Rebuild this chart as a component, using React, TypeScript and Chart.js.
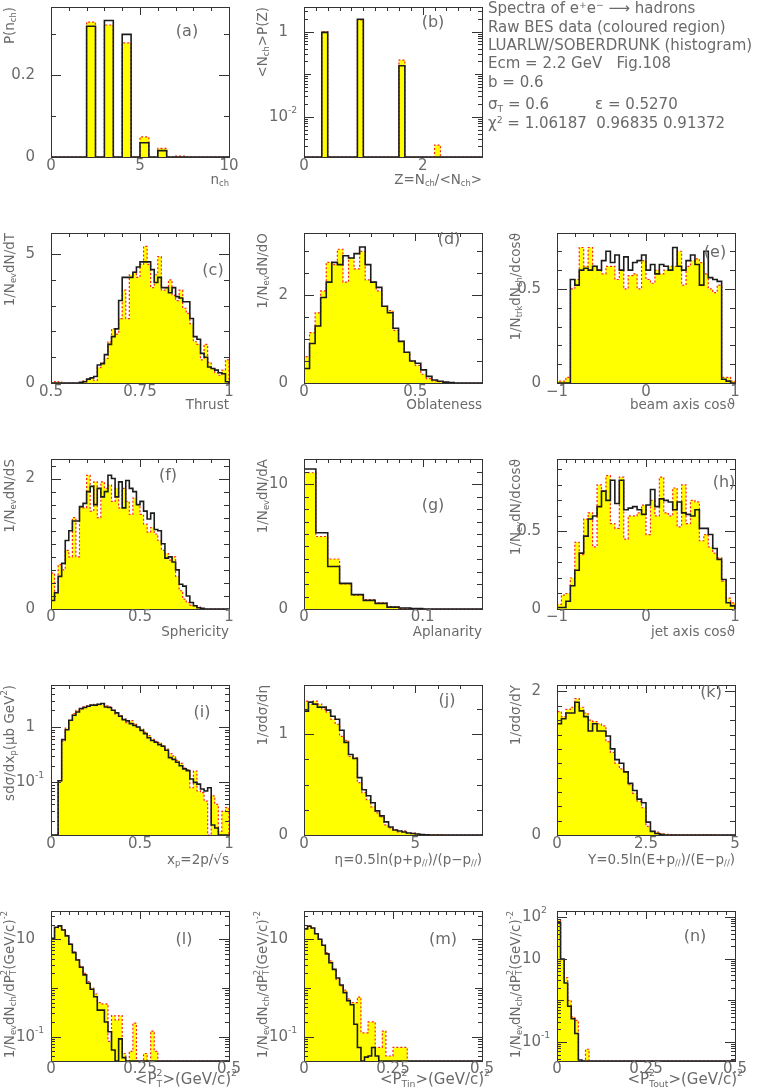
import React, { useEffect, useRef } from "react";
import { Chart, registerables } from "chart.js";
Chart.register(...registerables);

const FONT = '"DejaVu Sans", "Liberation Sans", sans-serif';
const TEXT = "#6a6a6a";
const FRAME = "#333333";
const YELLOW = "#ffff00";
const RED = "#ff2222";
const BLACK = "#1c1c1c";

// ---------------- data (bin values; bins start at *Lo with width *Width) ----------------
// (a) P(n_ch)
const aLo = 0, aWidth = 0.5;
const aData = [0, 0, 0, 0, 0.33, 0, 0.323, 0, 0.279, 0, 0.049, 0, 0.021, 0, 0.002, 0, 0, 0, 0, 0];
const aModel = [0, 0, 0, 0, 0.32, 0, 0.334, 0, 0.3, 0, 0.035, 0, 0.0155, 0, 0, 0, 0, 0, 0, 0];
// (b) <N_ch>P(Z)
const bLo = 0, bWidth = 0.1;
const bData = [0, 0, 0, 1.0, 0, 0, 0, 0, 0, 1.88, 0, 0, 0, 0, 0, 0, 0.215, 0, 0, 0, 0, 0, 0.00215, 0, 0, 0, 0, 0, 0, 0];
const bModel = [0, 0, 0, 0.96, 0, 0, 0, 0, 0, 1.95, 0, 0, 0, 0, 0, 0, 0.158, 0, 0, 0, 0, 0, 0, 0, 0, 0, 0, 0, 0, 0];
// (c) Thrust
const cLo = 0.5, cWidth = 0.01;
const cData = [0, 0.05, 0.04, 0, 0, 0, 0, 0, 0.02, 0.08, 0.15, 0.2, 0.1, 0.6, 0.8, 0.95, 1.6, 2.1, 1.9, 2.5,
  3.6, 2.5, 4.2, 4.3, 4.1, 4.6, 5.3, 4.6, 3.7, 4.2, 4.9, 3.6, 3.7, 4.0, 3.4, 3.2, 3.6, 2.9, 2.7, 2.3,
  1.6, 1.5, 0.9, 1.5, 0.8, 0.55, 0.4, 0.3, 0.5, 0.9];
const cModel = [0, 0, 0, 0, 0, 0, 0, 0, 0.03, 0.05, 0.15, 0.2, 0.25, 0.7, 0.75, 1.1, 1.5, 1.8, 2.1, 3.2,
  4.1, 4.1, 4.1, 4.3, 4.5, 4.7, 4.7, 4.7, 4.4, 3.9, 4.1, 3.7, 3.7, 3.5, 3.7, 3.35, 3.3, 3.15, 3.15, 2.5,
  1.8, 1.7, 1.15, 1.0, 0.62, 0.56, 0.5, 0.4, 0.36, 0.05];
// (d) Oblateness
const dLo = 0, dWidth = 0.025;
const dData = [0.6, 1.15, 1.6, 2.1, 2.75, 2.7, 3.05, 2.3, 2.85, 2.6, 3.0, 2.35, 2.3, 2.1, 1.75, 1.65, 1.2, 0.95, 0.7, 0.5,
  0.4, 0.2, 0.1, 0.05, 0.03, 0, 0, 0, 0, 0, 0, 0];
const dModel = [0.33, 0.9, 1.3, 1.95, 2.3, 2.75, 2.7, 2.9, 2.85, 2.95, 3.1, 2.7, 2.3, 2.18, 1.75, 1.6, 1.25, 0.95, 0.7, 0.5,
  0.45, 0.3, 0.15, 0.07, 0.04, 0.02, 0.01, 0, 0, 0, 0, 0];
// (e) beam axis cos
const eLo = -1, eWidth = 0.05;
const eData = [0.01, 0.01, 0.03, 0.5, 0.55, 0.72, 0.62, 0.72, 0.62, 0.6, 0.58, 0.62, 0.62, 0.55, 0.6, 0.5, 0.57, 0.58, 0.5, 0.65,
  0.55, 0.53, 0.6, 0.58, 0.6, 0.62, 0.62, 0.7, 0.52, 0.62, 0.65, 0.66, 0.64, 0.58, 0.5, 0.48, 0.52, 0.03, 0.03, 0.01];
const eModel = [0, 0, 0, 0.55, 0.52, 0.6, 0.61, 0.6, 0.62, 0.6, 0.65, 0.7, 0.64, 0.68, 0.6, 0.67, 0.6, 0.64, 0.65, 0.68,
  0.6, 0.63, 0.58, 0.63, 0.62, 0.6, 0.72, 0.62, 0.6, 0.65, 0.68, 0.63, 0.52, 0.7, 0.56, 0.55, 0.54, 0.02, 0.01, 0];
// (f) Sphericity
const fLo = 0, fWidth = 0.02;
const fData = [0.55, 0.25, 0.68, 0.6, 0.9, 0.8, 1.4, 0.8, 1.57, 1.55, 2.05, 1.5, 1.95, 1.4, 1.95, 1.85, 1.9, 1.65, 1.85, 1.55,
  1.85, 1.65, 1.45, 1.7, 1.6, 1.45, 1.3, 1.18, 1.25, 1.15, 1.05, 0.9, 0.85, 0.75, 0.8, 0.5, 0.28, 0.15, 0.1, 0.06,
  0.05, 0.03, 0, 0, 0, 0, 0, 0, 0, 0];
const fModel = [0.13, 0.25, 0.5, 0.7, 1.05, 1.2, 1.35, 1.35, 1.57, 1.62, 1.8, 1.88, 1.6, 1.85, 1.72, 1.8, 2.05, 2.0, 1.72, 1.95,
  1.55, 1.97, 1.85, 1.8, 1.6, 1.65, 1.5, 1.38, 1.47, 1.22, 1.2, 1.0, 0.78, 0.8, 0.72, 0.6, 0.38, 0.35, 0.2, 0.1,
  0.05, 0.02, 0.01, 0, 0, 0, 0, 0, 0, 0];
// (g) Aplanarity
const gLo = 0, gWidth = 0.01;
const gData = [10.9, 5.8, 4.0, 2.0, 1.1, 0.75, 0.5, 0.2, 0.05, 0.02, 0, 0, 0, 0, 0];
const gModel = [11.2, 6.1, 3.4, 2.05, 1.15, 0.69, 0.45, 0.15, 0.08, 0.03, 0, 0, 0, 0, 0];
// (h) jet axis cos
const hLo = -1, hWidth = 0.05;
const hData = [0.03, 0.09, 0.1, 0.2, 0.43, 0.35, 0.58, 0.62, 0.4, 0.8, 0.76, 0.86, 0.55, 0.52, 0.85, 0.45, 0.6, 0.6, 0.62, 0.67,
  0.48, 0.7, 0.6, 0.85, 0.62, 0.6, 0.78, 0.53, 0.8, 0.55, 0.7, 0.69, 0.44, 0.48, 0.4, 0.36, 0.33, 0.18, 0.07, 0.04];
const hModel = [0.01, 0.01, 0.05, 0.15, 0.25, 0.36, 0.47, 0.58, 0.6, 0.66, 0.76, 0.7, 0.83, 0.68, 0.83, 0.64, 0.65, 0.66, 0.64, 0.61,
  0.67, 0.77, 0.66, 0.71, 0.7, 0.69, 0.64, 0.69, 0.62, 0.61, 0.6, 0.64, 0.52, 0.52, 0.48, 0.39, 0.32, 0.19, 0.04, 0.02];
// (i) x_p (log)
const iLo = 0, iWidth = 0.02;
const iData = [0, 0, 0.107, 0.55, 0.95, 1.3, 1.75, 2.0, 2.1, 2.3, 2.4, 2.5, 2.55, 2.6, 2.5, 2.4, 2.3, 2.0, 1.7, 1.6,
  1.4, 1.2, 1.3, 1.15, 1.0, 0.92, 0.8, 0.7, 0.6, 0.55, 0.52, 0.46, 0.4, 0.33, 0.3, 0.25, 0.22, 0.18, 0.17, 0.08,
  0.16, 0.07, 0.065, 0.046, 0, 0.057, 0.04, 0.013, 0.03, 0.035];
const iModel = [0, 0, 0.107, 0.59, 0.89, 1.32, 1.63, 1.87, 2.15, 2.25, 2.37, 2.48, 2.48, 2.58, 2.65, 2.3, 2.25, 2.0, 1.8, 1.56,
  1.36, 1.29, 1.15, 1.07, 1.0, 0.87, 0.76, 0.64, 0.57, 0.53, 0.48, 0.45, 0.38, 0.28, 0.26, 0.23, 0.2, 0.175, 0.163, 0.115,
  0.1, 0.093, 0.076, 0.07, 0.08, 0.017, 0.015, 0, 0, 0];
// (j) eta
const jLo = 0, jWidth = 0.2;
const jData = [1.33, 1.3, 1.33, 1.3, 1.25, 1.22, 1.15, 1.1, 0.98, 0.94, 0.78, 0.77, 0.52, 0.42, 0.35, 0.28, 0.22, 0.18, 0.1, 0.07,
  0.05, 0.03, 0.04, 0.02, 0.02, 0.01, 0.005, 0.005, 0.005, 0.005, 0.005, 0, 0, 0, 0, 0, 0, 0, 0, 0];
const jModel = [1.23, 1.32, 1.3, 1.27, 1.27, 1.24, 1.18, 1.15, 1.04, 0.92, 0.8, 0.76, 0.57, 0.45, 0.39, 0.32, 0.24, 0.19, 0.13, 0.08,
  0.05, 0.04, 0.03, 0.02, 0.015, 0.01, 0.005, 0.003, 0, 0, 0, 0, 0, 0, 0, 0, 0, 0, 0, 0];
// (k) rapidity Y
const kLo = 0, kWidth = 0.125;
const kData = [1.72, 1.65, 1.75, 1.78, 1.9, 1.78, 1.7, 1.6, 1.58, 1.55, 1.52, 1.3, 1.15, 1.0, 0.92, 0.88, 0.7, 0.58, 0.47, 0.38,
  0.12, 0.05, 0.04, 0.02, 0.01, 0.005, 0.005, 0.003, 0.003, 0.003, 0.003, 0.003, 0.003, 0.005, 0.003, 0.003, 0, 0, 0, 0];
const kModel = [1.55, 1.62, 1.7, 1.7, 1.85, 1.73, 1.65, 1.45, 1.55, 1.45, 1.45, 1.38, 1.2, 1.05, 1.0, 0.88, 0.72, 0.62, 0.5, 0.45,
  0.18, 0.05, 0.02, 0.005, 0, 0, 0, 0, 0, 0, 0, 0, 0, 0, 0, 0, 0, 0, 0, 0];
// (l) <P_T^2> (log)
const lLo = 0, lWidth = 0.01;
const lData = [10, 17, 19, 15.5, 12, 8, 5.5, 3.8, 2.8, 2.0, 1.35, 1.0, 0.75, 0.5, 0.47, 0.47, 0.08, 0.27, 0.22, 0.27,
  0.045, 0, 0.05, 0.19, 0, 0, 0.045, 0, 0.13, 0.05, 0, 0, 0, 0, 0, 0, 0, 0, 0, 0,
  0, 0, 0, 0, 0, 0, 0, 0, 0, 0];
const lModel = [10.5, 17.6, 18.8, 15.5, 11.7, 7.9, 5.3, 3.75, 2.66, 1.85, 1.25, 0.94, 0.66, 0.35, 0.35, 0.2, 0.126, 0.053, 0, 0.09,
  0.037, 0, 0, 0, 0, 0, 0, 0, 0, 0, 0, 0, 0, 0, 0, 0, 0, 0, 0, 0,
  0, 0, 0, 0, 0, 0, 0, 0, 0, 0];
// (m) <P_Tin^2> (log)
const mLo = 0, mWidth = 0.01;
const mData = [17, 19, 17, 13, 10, 7.6, 5.3, 3.6, 2.4, 1.5, 1.1, 0.9, 0.6, 0.5, 0.5, 0.65, 0.12, 0.12, 0.2, 0.2,
  0.06, 0.06, 0.13, 0.04, 0.04, 0.06, 0.06, 0.06, 0.06, 0, 0, 0, 0, 0, 0, 0, 0, 0, 0, 0,
  0, 0, 0, 0, 0, 0, 0, 0, 0, 0];
const mModel = [16.3, 18.5, 17, 13, 10, 7.5, 5, 3.3, 2.4, 1.6, 1.15, 0.8, 0.55, 0.45, 0.18, 0.06, 0, 0.038, 0.04, 0.06,
  0.04, 0, 0, 0, 0, 0, 0, 0, 0, 0, 0, 0, 0, 0, 0, 0, 0, 0, 0, 0,
  0, 0, 0, 0, 0, 0, 0, 0, 0, 0];
// (n) <P_Tout^2> (log)
const nLo = 0, nWidth = 0.01;
const nData = [85, 9.5, 3.5, 1.0, 0.4, 0.33, 0, 0, 0.067, 0, 0, 0, 0, 0, 0, 0, 0, 0, 0, 0,
  0, 0, 0, 0, 0, 0, 0, 0, 0, 0, 0, 0, 0, 0, 0, 0, 0, 0, 0, 0,
  0, 0, 0, 0, 0, 0, 0, 0, 0, 0];
const nModel = [72, 9.8, 2.6, 0.72, 0.36, 0.16, 0.037, 0, 0, 0, 0, 0, 0, 0, 0, 0, 0, 0, 0, 0,
  0, 0, 0, 0, 0, 0, 0, 0, 0, 0, 0, 0, 0, 0, 0, 0, 0, 0, 0, 0,
  0, 0, 0, 0, 0, 0, 0, 0, 0, 0];

// ---------------- axis tick labels ----------------
const aXLabels = [0, 5, 10], aYLabels = [0, 0.2];
const bXLabels = [0, 2], bYLabels = [0.01, 1];
const cXLabels = [0.5, 0.75, 1], cYLabels = [0, 5];
const dXLabels = [0, 0.5], dYLabels = [0, 2];
const eXLabels = [-1, 0, 1], eYLabels = [0, 0.5];
const fXLabels = [0, 0.5, 1], fYLabels = [0, 2];
const gXLabels = [0, 0.1], gYLabels = [0, 10];
const hXLabels = [-1, 0, 1], hYLabels = [0, 0.5];
const iXLabels = [0, 0.5, 1], iYLabels = [0.1, 1];
const jXLabels = [0, 5], jYLabels = [0, 1];
const kXLabels = [0, 2.5, 5], kYLabels = [0, 2];
const ptXLabels = [0, 0.25, 0.5], ptYLabels = [0.1, 10];
const nYLabels = [0.1, 10, 100];

// ---------------- panel definitions ----------------
interface PanelCfg {
  tag: string; row: number; col: number;
  lo: number; width: number; data: number[]; model: number[];
  xMin: number; xMax: number; xLabels: number[]; xStep: number;
  yMin: number; yMax: number; yLog: boolean; yLabels: number[]; yStep: number;
  xTitle: string; yTitle: string; tagX: number; tagY: number;
}

const PANELS: PanelCfg[] = [
  { tag: "(a)", row: 0, col: 0, lo: aLo, width: aWidth, data: aData, model: aModel, xMin: 0, xMax: 10, xLabels: aXLabels, xStep: 1,
    yMin: 0, yMax: 0.367, yLog: false, yLabels: aYLabels, yStep: 0.1, xTitle: "n_{ch}", yTitle: "P(n_{ch})", tagX: 136, tagY: 25 },
  { tag: "(b)", row: 0, col: 1, lo: bLo, width: bWidth, data: bData, model: bModel, xMin: 0, xMax: 3, xLabels: bXLabels, xStep: 0.2,
    yMin: 0.00113, yMax: 3.8, yLog: true, yLabels: bYLabels, yStep: 0, xTitle: "Z=N_{ch}/<N_{ch}>", yTitle: "<N_{ch}>P(Z)", tagX: 129, tagY: 16 },
  { tag: "(c)", row: 1, col: 0, lo: cLo, width: cWidth, data: cData, model: cModel, xMin: 0.5, xMax: 1, xLabels: cXLabels, xStep: 0.05,
    yMin: 0, yMax: 5.82, yLog: false, yLabels: cYLabels, yStep: 1, xTitle: "Thrust", yTitle: "1/N_{ev}dN/dT", tagX: 162, tagY: 38 },
  { tag: "(d)", row: 1, col: 1, lo: dLo, width: dWidth, data: dData, model: dModel, xMin: 0, xMax: 0.8, xLabels: dXLabels, xStep: 0.1,
    yMin: 0, yMax: 3.42, yLog: false, yLabels: dYLabels, yStep: 0.5, xTitle: "Oblateness", yTitle: "1/N_{ev}dN/dO", tagX: 145, tagY: 7 },
  { tag: "(e)", row: 1, col: 2, lo: eLo, width: eWidth, data: eData, model: eModel, xMin: -1, xMax: 1, xLabels: eXLabels, xStep: 0.2,
    yMin: 0, yMax: 0.797, yLog: false, yLabels: eYLabels, yStep: 0.1, xTitle: "beam axis cosϑ", yTitle: "1/N_{trk}dN_{ch}/dcosϑ", tagX: 158, tagY: 20 },
  { tag: "(f)", row: 2, col: 0, lo: fLo, width: fWidth, data: fData, model: fModel, xMin: 0, xMax: 1, xLabels: fXLabels, xStep: 0.1,
    yMin: 0, yMax: 2.3, yLog: false, yLabels: fYLabels, yStep: 0.2, xTitle: "Sphericity", yTitle: "1/N_{ev}dN/dS", tagX: 117, tagY: 17 },
  { tag: "(g)", row: 2, col: 1, lo: gLo, width: gWidth, data: gData, model: gModel, xMin: 0, xMax: 0.15, xLabels: gXLabels, xStep: 0.01,
    yMin: 0, yMax: 12, yLog: false, yLabels: gYLabels, yStep: 1, xTitle: "Aplanarity", yTitle: "1/N_{ev}dN/dA", tagX: 129, tagY: 47 },
  { tag: "(h)", row: 2, col: 2, lo: hLo, width: hWidth, data: hData, model: hModel, xMin: -1, xMax: 1, xLabels: hXLabels, xStep: 0.1,
    yMin: 0, yMax: 0.967, yLog: false, yLabels: hYLabels, yStep: 0.1, xTitle: "jet axis cosϑ", yTitle: "1/N_{ev}dN/dcosϑ", tagX: 167, tagY: 24 },
  { tag: "(i)", row: 3, col: 0, lo: iLo, width: iWidth, data: iData, model: iModel, xMin: 0, xMax: 1, xLabels: iXLabels, xStep: 0.1,
    yMin: 0.0112, yMax: 5.73, yLog: true, yLabels: iYLabels, yStep: 0, xTitle: "x_{p}=2p/√s", yTitle: "sdσ/dx_{p}(μb GeV^{2})", tagX: 151, tagY: 28 },
  { tag: "(j)", row: 3, col: 1, lo: jLo, width: jWidth, data: jData, model: jModel, xMin: 0, xMax: 8, xLabels: jXLabels, xStep: 1,
    yMin: 0, yMax: 1.49, yLog: false, yLabels: jYLabels, yStep: 0.25, xTitle: "η=0.5ln(p+p_{//})/(p−p_{//})", yTitle: "1/σdσ/dη", tagX: 143, tagY: 16 },
  { tag: "(k)", row: 3, col: 2, lo: kLo, width: kWidth, data: kData, model: kModel, xMin: 0, xMax: 5, xLabels: kXLabels, xStep: 0.25,
    yMin: 0, yMax: 2.09, yLog: false, yLabels: kYLabels, yStep: 0.2, xTitle: "Y=0.5ln(E+p_{//})/(E−p_{//})", yTitle: "1/σdσ/dY", tagX: 154, tagY: 8 },
  { tag: "(l)", row: 4, col: 0, lo: lLo, width: lWidth, data: lData, model: lModel, xMin: 0, xMax: 0.5, xLabels: ptXLabels, xStep: 0.025,
    yMin: 0.0316, yMax: 38, yLog: true, yLabels: ptYLabels, yStep: 0, xTitle: "<P^{2}_{T}>(GeV/c)^{2}", yTitle: "1/N_{ev}dN_{ch}/dP^{2}_{T}(GeV/c)^{-2}", tagX: 133, tagY: 29 },
  { tag: "(m)", row: 4, col: 1, lo: mLo, width: mWidth, data: mData, model: mModel, xMin: 0, xMax: 0.5, xLabels: ptXLabels, xStep: 0.025,
    yMin: 0.0316, yMax: 38, yLog: true, yLabels: ptYLabels, yStep: 0, xTitle: "<P_{Tin}^{2}>(GeV/c)^{2}", yTitle: "1/N_{ev}dN_{ch}/dP^{2}_{T}(GeV/c)^{-2}", tagX: 139, tagY: 29 },
  { tag: "(n)", row: 4, col: 2, lo: nLo, width: nWidth, data: nData, model: nModel, xMin: 0, xMax: 0.5, xLabels: ptXLabels, xStep: 0.025,
    yMin: 0.035, yMax: 139, yLog: true, yLabels: nYLabels, yStep: 0, xTitle: "<P_{Tout}^{2}>(GeV/c)^{2}", yTitle: "1/N_{ev}dN_{ch}/dP^{2}_{T}(GeV/c)^{-2}", tagX: 138, tagY: 26 },
];

// ---------------- layout constants ----------------
const CELL_W = 253, CELL_H = 226;
const PAD = { left: 51, top: 7, right: 24, bottom: 69 };
const ROW_XTICK_DY = [9, 9, 8, 9, 8];
const ROW_XTITLE_DY = [23, 22, 23, 25, 19];
const ROW_XTITLE_DX = [0, 0, 0, 0, 8];
const ROW_XTITLE_FS = [13.5, 13.5, 13.5, 13.5, 15];
const TICK_FS = 15, TITLE_FS = 13.5, TAG_FS = 16;

// ---------------- rich text helpers ----------------
type Seg = { t: string; lvl: number };
function parseRich(s: string): Seg[] {
  const out: Seg[] = [];
  let buf = "";
  for (let i = 0; i < s.length; i++) {
    const c = s[i];
    if ((c === "_" || c === "^") && i + 1 < s.length) {
      if (buf) { out.push({ t: buf, lvl: 0 }); buf = ""; }
      let t = "";
      if (s[i + 1] === "{") { const j = s.indexOf("}", i + 2); t = s.slice(i + 2, j); i = j; }
      else { t = s[i + 1]; i++; }
      out.push({ t, lvl: c === "^" ? 1 : -1 });
    } else buf += c;
  }
  if (buf) out.push({ t: buf, lvl: 0 });
  return out;
}
function layoutRich(ctx: CanvasRenderingContext2D, text: string, size: number) {
  const segs = parseRich(text);
  const small = size * 0.62;
  const items: { t: string; x: number; dy: number; sz: number }[] = [];
  let x = 0, baseEnd = 0;
  const dyOf = (l: number) => (l === 0 ? 0 : l > 0 ? -size * 0.42 : size * 0.3);
  for (let i = 0; i < segs.length; i++) {
    const s = segs[i];
    const sz = s.lvl === 0 ? size : small;
    ctx.font = `${sz}px ${FONT}`;
    const w = ctx.measureText(s.t).width;
    const nx = segs[i + 1];
    if (s.lvl !== 0 && nx && nx.lvl === -s.lvl) {
      const w2 = ctx.measureText(nx.t).width;
      items.push({ t: s.t, x, dy: dyOf(s.lvl), sz });
      items.push({ t: nx.t, x, dy: dyOf(nx.lvl), sz: small });
      x += Math.max(w, w2);
      i++;
      continue;
    }
    items.push({ t: s.t, x, dy: dyOf(s.lvl), sz });
    x += w;
    if (s.lvl === 0) baseEnd = x;
  }
  return { items, width: x, baseEnd };
}
function drawRich(ctx: CanvasRenderingContext2D, text: string, x: number, y: number, size: number,
  align: "left" | "right" | "center", anchorBase = false) {
  const L = layoutRich(ctx, text, size);
  const ref = anchorBase ? L.baseEnd : L.width;
  const x0 = align === "left" ? x : align === "right" ? x - ref : x - L.width / 2;
  ctx.fillStyle = TEXT;
  ctx.textBaseline = "middle";
  ctx.textAlign = "left";
  for (const it of L.items) {
    ctx.font = `${it.sz}px ${FONT}`;
    ctx.fillText(it.t, x0 + it.x, y + it.dy);
  }
}
function numText(v: number) {
  return v < 0 ? "−" + String(-v) : String(v);
}
function logText(v: number) {
  const e = Math.round(Math.log10(v));
  if (e === 0) return "1";
  if (e === 1) return "10";
  return `10^{${e < 0 ? "-" : ""}${Math.abs(e)}}`;
}

// ticks: {v, len}
function linTicks(min: number, max: number, labels: number[], step: number, major: number, minor: number) {
  const out: { v: number; len: number }[] = [];
  labels.forEach((v) => out.push({ v, len: major }));
  if (step > 0) {
    const k0 = Math.ceil(min / step - 1e-6), k1 = Math.floor(max / step + 1e-6);
    for (let k = k0; k <= k1; k++) {
      const v = k * step;
      if (labels.some((l) => Math.abs(l - v) < step * 1e-3)) continue;
      out.push({ v, len: minor });
    }
  }
  return out;
}
function logTicks(min: number, max: number, labels: number[], major: number, mid: number, minor: number) {
  const out: { v: number; len: number }[] = [];
  const e0 = Math.floor(Math.log10(min)), e1 = Math.ceil(Math.log10(max));
  for (let e = e0; e <= e1; e++) {
    for (let m = 1; m <= 9; m++) {
      const v = m * Math.pow(10, e);
      if (v < min || v > max) continue;
      const isLab = labels.some((l) => Math.abs(l - v) / v < 1e-6);
      out.push({ v, len: isLab ? major : m === 1 ? mid : minor });
    }
  }
  return out;
}

const pawPlugin = {
  id: "paw",
  afterDraw(chart: any) {
    const p: PanelCfg = chart.options.plugins.paw.panel;
    const ctx: CanvasRenderingContext2D = chart.ctx;
    const a = chart.chartArea;
    const xs = chart.scales.x, ys = chart.scales.y;
    ctx.save();
    ctx.strokeStyle = FRAME;
    ctx.lineWidth = 1;
    const xt = linTicks(p.xMin, p.xMax, p.xLabels, p.xStep, 8, 4);
    const yt = p.yLog ? logTicks(p.yMin, p.yMax, p.yLabels, 10, 7, 4) : linTicks(p.yMin, p.yMax, p.yLabels, p.yStep, 10, 5);
    ctx.beginPath();
    for (const t of xt) {
      const px = Math.round(xs.getPixelForValue(t.v)) + 0.5;
      ctx.moveTo(px, a.top); ctx.lineTo(px, a.top + t.len);
    }
    for (const t of yt) {
      const py = Math.round(ys.getPixelForValue(t.v)) + 0.5;
      ctx.moveTo(a.left, py); ctx.lineTo(a.left + t.len, py);
      ctx.moveTo(a.right, py); ctx.lineTo(a.right - t.len, py);
    }
    ctx.stroke();
    ctx.strokeRect(Math.round(a.left) + 0.5, Math.round(a.top) + 0.5, Math.round(a.right - a.left), Math.round(a.bottom - a.top));
    // tick labels
    const xdy = ROW_XTICK_DY[p.row];
    for (const v of p.xLabels) {
      drawRich(ctx, numText(v), xs.getPixelForValue(v), a.bottom + xdy, TICK_FS, "center");
    }
    for (const v of p.yLabels) {
      const txt = p.yLog ? logText(v) : numText(v);
      drawRich(ctx, txt, a.left - 16, ys.getPixelForValue(v), TICK_FS, "right", true);
    }
    // titles
    drawRich(ctx, p.xTitle, a.right + ROW_XTITLE_DX[p.row], a.bottom + ROW_XTITLE_DY[p.row], ROW_XTITLE_FS[p.row], "right");
    ctx.save();
    ctx.translate(a.left - 41, a.top);
    ctx.rotate(-Math.PI / 2);
    drawRich(ctx, p.yTitle, 0, 0, TITLE_FS, "right");
    ctx.restore();
    // panel tag
    drawRich(ctx, p.tag, a.left + p.tagX, a.top + p.tagY, TAG_FS, "center");
    ctx.restore();
  },
};

// Points at bin edges; with stepped 'before' each segment takes the previous point's value (histogram).
function histPoints(lo: number, w: number, vals: number[], floor: number) {
  const pts = [{ x: lo, y: floor }];
  vals.forEach((v, i) => pts.push({ x: lo + i * w, y: Math.max(v, floor) }));
  pts.push({ x: lo + vals.length * w, y: floor });
  return pts;
}

function Panel({ p }: { p: PanelCfg }) {
  const ref = useRef<HTMLCanvasElement>(null);
  useEffect(() => {
    if (!ref.current) return;
    const floor = p.yLog ? p.yMin : 0;
    const chart = new Chart(ref.current, {
      type: "line",
      data: {
        datasets: [
          { data: histPoints(p.lo, p.width, p.model, floor), borderColor: BLACK, borderWidth: 1.6, fill: false,
            stepped: "before", pointRadius: 0, order: 0 } as any,
          { data: histPoints(p.lo, p.width, p.data, floor), borderColor: RED, borderWidth: 1.2, borderDash: [2, 2],
            backgroundColor: YELLOW, fill: "start", stepped: "before", pointRadius: 0, order: 1 } as any,
        ],
      },
      options: {
        animation: false,
        responsive: false,
        events: [],
        layout: { padding: PAD, autoPadding: false } as any,
        scales: {
          x: { type: "linear", min: p.xMin, max: p.xMax, display: false },
          y: { type: p.yLog ? "logarithmic" : "linear", min: p.yMin, max: p.yMax, display: false } as any,
        },
        plugins: { legend: { display: false }, tooltip: { enabled: false }, paw: { panel: p } } as any,
      },
      plugins: [pawPlugin],
    });
    return () => chart.destroy();
  }, [p]);
  return (
    <canvas ref={ref} width={CELL_W} height={CELL_H}
      style={{ position: "absolute", left: p.col * CELL_W, top: p.row * CELL_H, width: CELL_W, height: CELL_H }} />
  );
}

const INFO_LINES_TOP = [-2, 17, 35, 53, 72, 94, 113];

export default function App() {
  const sub = { fontSize: "0.62em", position: "relative" as const, top: "0.3em" };
  const sup = { fontSize: "0.62em", position: "relative" as const, top: "-0.5em" };
  const line = (i: number) => ({ position: "absolute" as const, left: 0, top: INFO_LINES_TOP[i], whiteSpace: "pre" as const });
  return (
    <div style={{ position: "fixed", left: 0, top: 0, width: 763, height: 1090, overflow: "hidden", background: "#fff" }}>
      {PANELS.map((p) => <Panel key={p.tag} p={p} />)}
      <div style={{ position: "absolute", left: 488, top: 0, font: `15px ${FONT}`, color: TEXT, lineHeight: "20px" }}>
        <div style={line(0)}>Spectra of e<span style={sup}>+</span>e<span style={sup}>−</span> ⟶ hadrons</div>
        <div style={line(1)}>Raw BES data (coloured region)</div>
        <div style={line(2)}>LUARLW/SOBERDRUNK (histogram)</div>
        <div style={line(3)}>Ecm = 2.2 GeV   Fig.108</div>
        <div style={line(4)}>b = 0.6</div>
        <div style={line(5)}>σ<span style={sub}>T</span> = 0.6</div>
        <div style={{ ...line(5), left: 107 }}>ε = 0.5270</div>
        <div style={line(6)}>χ<span style={sup}>2</span> = 1.06187  0.96835 0.91372</div>
      </div>
    </div>
  );
}
